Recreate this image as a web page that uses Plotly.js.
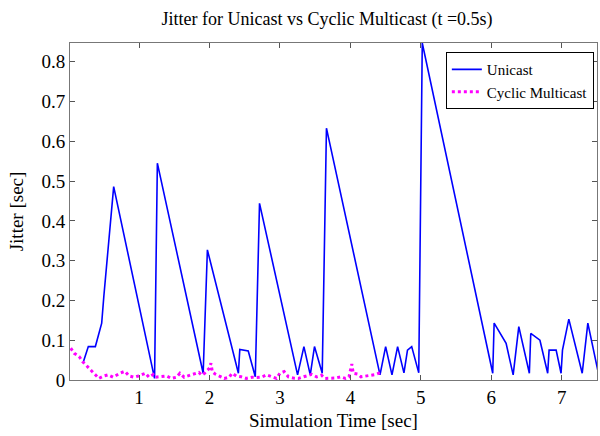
<!DOCTYPE html>
<html>
<head>
<meta charset="utf-8">
<script src="https://cdn.plot.ly/plotly-3.0.1.min.js"></script>
<style>html,body{margin:0;padding:0;background:#fff;}#chart{width:600px;height:436px;}</style>
</head>
<body>
<div id="chart"></div>
<script>
var unicastX = [0.21, 0.28, 0.38, 0.47, 0.50, 0.64, 1.22, 1.26, 1.91, 1.97, 2.41, 2.43, 2.55, 2.65, 2.71, 3.25, 3.34, 3.43, 3.49, 3.60, 3.66, 4.42, 4.50, 4.59, 4.67, 4.76, 4.81, 4.87, 4.97, 5.02, 6.02, 6.04, 6.21, 6.31, 6.39, 6.54, 6.56, 6.69, 6.80, 6.82, 6.92, 6.99, 7.01, 7.10, 7.29, 7.37, 7.52];
var unicastY = [0.046, 0.084, 0.084, 0.143, 0.21, 0.486, 0.004, 0.545, 0.017, 0.327, 0.017, 0.077, 0.073, 0.008, 0.444, 0.013, 0.084, 0.013, 0.084, 0.017, 0.633, 0.013, 0.084, 0.013, 0.084, 0.018, 0.075, 0.084, 0.018, 0.847, 0.017, 0.143, 0.092, 0.013, 0.134, 0.017, 0.117, 0.1, 0.017, 0.075, 0.075, 0.017, 0.075, 0.153, 0.017, 0.143, 0.017];

var multicastX = [0.03,0.08,0.15,0.20,0.26,0.32,0.38,0.43,0.50,0.56,0.63,0.74,0.80,0.86,0.93,0.99,1.05,1.09,1.14,1.20,1.23,1.31,1.39,1.46,1.53,1.58,1.64,1.74,1.78,1.85,1.89,1.93,2.00,2.02,2.04,2.08,2.14,2.21,2.28,2.32,2.38,2.45,2.52,2.60,2.67,2.74,2.81,2.88,2.95,3.00,3.06,3.12,3.19,3.26,3.33,3.39,3.45,3.52,3.59,3.64,3.71,3.79,3.86,3.93,3.98,4.00,4.02,4.04,4.10,4.15,4.22,4.29,4.36,4.43];
var multicastY = [0.08,0.067,0.059,0.046,0.035,0.025,0.013,0.004,0.01,0.013,0.007,0.018,0.022,0.01,0.007,0.01,0.014,0.017,0.007,0.014,0.007,0.009,0.01,0.004,0.007,0.017,0.007,0.013,0.015,0.019,0.012,0.017,0.03,0.042,0.021,0.015,0.01,0.004,0.007,0.017,0.01,0.008,0.004,0.007,0.006,0.007,0.013,0.008,0.004,0.017,0.021,0.008,0.005,0.004,0.008,0.01,0.014,0.008,0.012,0.004,0.004,0.005,0.008,0.004,0.008,0.025,0.04,0.017,0.015,0.008,0.01,0.012,0.014,0.019];

var xTicks = [1, 2, 3, 4, 5, 6, 7];
var yTicks = [0, 0.1, 0.2, 0.3, 0.4, 0.5, 0.6, 0.7, 0.8];
var yTickText = ['0', '0.1', '0.2', '0.3', '0.4', '0.5', '0.6', '0.7', '0.8'];

var serif = 'Liberation Serif, Times New Roman, serif';

var traces = [
  {x: unicastX, y: unicastY, type: 'scatter', mode: 'lines', name: 'Unicast',
   line: {color: '#0000ff', width: 1.6}},
  {x: multicastX, y: multicastY, type: 'scatter', mode: 'lines', name: 'Cyclic Multicast',
   line: {color: '#ff00ff', width: 3, dash: 'dot'}}
];

var layout = {
  width: 600, height: 436,
  margin: {l: 70, r: 3, t: 43, b: 56, autoexpand: false},
  paper_bgcolor: '#fff', plot_bgcolor: '#fff',
  font: {family: serif, color: '#000'},
  title: {text: 'Jitter for Unicast vs Cyclic Multicast (t =0.5s)', font: {family: serif, size: 18, color: '#000'},
          x: 0.545, xanchor: 'center', y: 0.958, yanchor: 'middle'},
  showlegend: true,
  legend: {x: 0.994, y: 0.973, xanchor: 'right', yanchor: 'top', bgcolor: '#fff',
           bordercolor: '#000', borderwidth: 1, font: {family: serif, size: 15, color: '#000'},
           tracegroupgap: 0, itemwidth: 30},
  xaxis: {range: [0.02, 7.5], tickvals: xTicks, ticktext: xTicks.map(String), ticks: 'inside', ticklen: 5,
          tickcolor: '#555', showline: true, linecolor: '#777', linewidth: 1, mirror: 'ticks',
          showgrid: false, zeroline: false, automargin: false, tickfont: {family: serif, size: 19, color: '#000'},
          title: {text: 'Simulation Time [sec]', font: {family: serif, size: 19, color: '#000'}, standoff: 6}},
  yaxis: {range: [0, 0.847], tickvals: yTicks, ticktext: yTickText, ticks: 'inside', ticklen: 5,
          tickcolor: '#555', showline: true, linecolor: '#777', linewidth: 1, mirror: 'ticks',
          showgrid: false, zeroline: false, automargin: false, tickfont: {family: serif, size: 19, color: '#000'},
          title: {text: 'Jitter [sec]', font: {family: serif, size: 19, color: '#000'}, standoff: 12}}
};

Plotly.newPlot('chart', traces, layout, {displayModeBar: false, staticPlot: true});
</script>
</body>
</html>
